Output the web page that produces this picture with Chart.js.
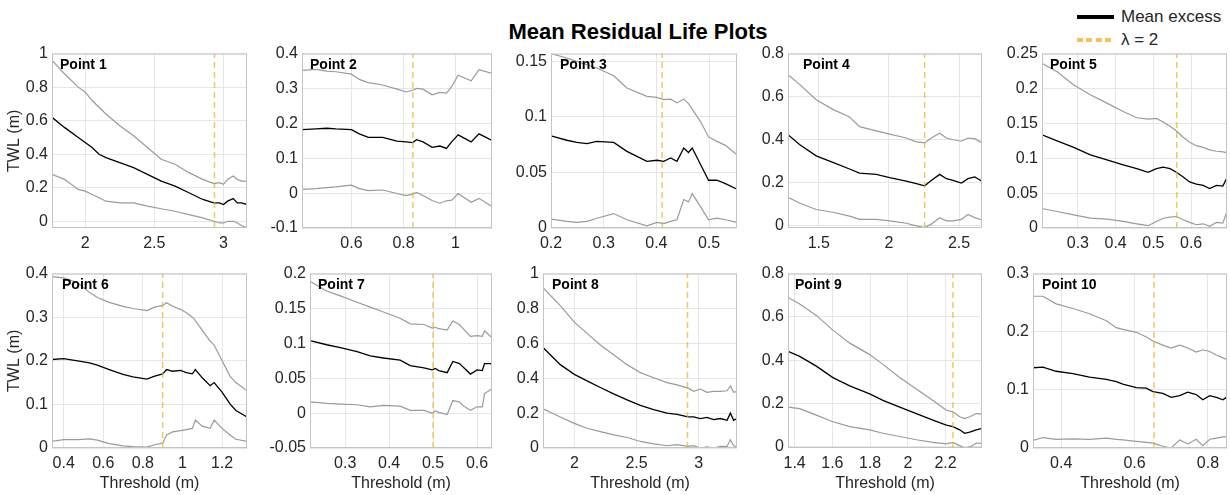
<!DOCTYPE html>
<html>
<head>
<meta charset="utf-8">
<script src="https://cdn.jsdelivr.net/npm/chart.js@4.4.1/dist/chart.umd.min.js"></script>
<style>
  body { margin: 0; background: #fff; width: 1230px; height: 495px; position: relative; overflow: hidden;
         font-family: "Liberation Sans", Arial, sans-serif; color: #000; }
  canvas { position: absolute; }
  .name { position: absolute; font-size: 14px; line-height: 16px; font-weight: bold; color: #000; white-space: nowrap; }
  #title { position: absolute; left: 638px; top: 19px; transform: translateX(-50%); font-size: 22px; line-height: 26px;
           font-weight: bold; white-space: nowrap; }
  .legtxt { position: absolute; left: 1121px; font-size: 17px; line-height: 20px; color: #262626; white-space: nowrap; }
  .legline { position: absolute; left: 1077px; width: 37px; height: 4px; }
</style>
</head>
<body>
<div id="title">Mean Residual Life Plots</div>
<div class="legline" style="top:15px;background:#000;"></div>
<div class="legtxt" style="top:7px;">Mean excess</div>
<div class="legline" style="top:38px;background:repeating-linear-gradient(90deg,rgba(237,177,32,0.75) 0 6px,transparent 6px 9.5px);"></div>
<div class="legtxt" style="top:30px;">λ = 2</div>
<script>
// ---- data ----
const panelNames = ['Point 1', 'Point 2', 'Point 3', 'Point 4', 'Point 5',
                    'Point 6', 'Point 7', 'Point 8', 'Point 9', 'Point 10'];

const x1 = [1.76, 1.85, 1.95, 2.0, 2.05, 2.1, 2.15, 2.25, 2.35, 2.45, 2.55, 2.65, 2.75, 2.85, 2.93, 2.97, 3.0, 3.03, 3.07, 3.1, 3.13, 3.17];
const mean1 = [0.62, 0.56, 0.50, 0.47, 0.44, 0.40, 0.38, 0.35, 0.32, 0.28, 0.24, 0.21, 0.17, 0.13, 0.11, 0.11, 0.10, 0.12, 0.135, 0.11, 0.11, 0.10];
const upper1 = [0.96, 0.88, 0.80, 0.77, 0.72, 0.68, 0.64, 0.57, 0.51, 0.44, 0.37, 0.34, 0.29, 0.25, 0.225, 0.23, 0.22, 0.25, 0.27, 0.25, 0.24, 0.24];
const lower1 = [0.28, 0.25, 0.19, 0.18, 0.16, 0.14, 0.12, 0.11, 0.11, 0.09, 0.075, 0.06, 0.04, 0.02, 0.0, -0.01, -0.01, 0.0, 0.0, -0.01, -0.025, -0.04];

const x2 = [0.41, 0.465, 0.505, 0.54, 0.6, 0.63, 0.665, 0.72, 0.775, 0.81, 0.835, 0.85, 0.875, 0.91, 0.94, 0.965, 0.985, 1.01, 1.06, 1.09, 1.14];
const mean2 = [0.182, 0.184, 0.186, 0.184, 0.182, 0.17, 0.16, 0.16, 0.149, 0.147, 0.145, 0.153, 0.147, 0.131, 0.135, 0.128, 0.147, 0.167, 0.147, 0.17, 0.151];
const upper2 = [0.352, 0.355, 0.35, 0.348, 0.341, 0.326, 0.317, 0.31, 0.298, 0.29, 0.295, 0.30, 0.298, 0.282, 0.289, 0.287, 0.305, 0.338, 0.322, 0.354, 0.343];
const lower2 = [0.011, 0.013, 0.016, 0.018, 0.023, 0.013, 0.007, 0.009, -0.001, -0.007, -0.003, 0.002, -0.007, -0.021, -0.029, -0.022, -0.02, -0.001, -0.026, -0.015, -0.038];

const x3 = [0.2, 0.23, 0.249, 0.268, 0.287, 0.319, 0.344, 0.382, 0.401, 0.414, 0.427, 0.439, 0.452, 0.461, 0.468, 0.484, 0.499, 0.515, 0.531, 0.553];
const mean3 = [0.083, 0.079, 0.077, 0.076, 0.078, 0.077, 0.069, 0.060, 0.061, 0.060, 0.063, 0.060, 0.072, 0.068, 0.072, 0.057, 0.043, 0.043, 0.040, 0.035];
const upper3 = [0.157, 0.153, 0.150, 0.147, 0.144, 0.137, 0.126, 0.1185, 0.1176, 0.1156, 0.116, 0.1126, 0.116, 0.112, 0.107, 0.0956, 0.082, 0.078, 0.0744, 0.066];
const lower3 = [0.008, 0.006, 0.005, 0.006, 0.0088, 0.013, 0.0074, 0.002, 0.005, 0.004, 0.006, 0.0074, 0.0256, 0.0235, 0.031, 0.019, 0.0074, 0.0088, 0.0074, 0.005];

const x4 = [1.28, 1.362, 1.481, 1.6, 1.719, 1.79, 1.91, 2.005, 2.124, 2.195, 2.255, 2.302, 2.362, 2.41, 2.457, 2.517, 2.564, 2.612, 2.664];
const mean4 = [0.423, 0.378, 0.325, 0.295, 0.264, 0.245, 0.239, 0.224, 0.208, 0.196, 0.186, 0.211, 0.239, 0.219, 0.211, 0.199, 0.219, 0.227, 0.207];
const upper4 = [0.702, 0.657, 0.586, 0.541, 0.506, 0.461, 0.441, 0.426, 0.408, 0.39, 0.385, 0.408, 0.43, 0.408, 0.40, 0.393, 0.408, 0.405, 0.385];
const lower4 = [0.133, 0.106, 0.076, 0.063, 0.045, 0.030, 0.030, 0.023, 0.012, 0.0, -0.008, 0.008, 0.038, 0.023, 0.023, 0.03, 0.053, 0.038, 0.027];

const x5 = [0.205, 0.245, 0.289, 0.333, 0.377, 0.420, 0.456, 0.486, 0.508, 0.526, 0.544, 0.561, 0.579, 0.596, 0.614, 0.632, 0.649, 0.667, 0.684, 0.695];
const mean5 = [0.1335, 0.125, 0.1156, 0.1047, 0.0976, 0.0906, 0.085, 0.0797, 0.085, 0.0873, 0.085, 0.080, 0.073, 0.066, 0.063, 0.061, 0.0566, 0.061, 0.060, 0.072];
const upper5 = [0.236, 0.224, 0.205, 0.191, 0.179, 0.167, 0.158, 0.156, 0.157, 0.152, 0.146, 0.139, 0.130, 0.123, 0.118, 0.1156, 0.112, 0.110, 0.109, 0.108];
const lower5 = [0.028, 0.0236, 0.0189, 0.0142, 0.0127, 0.0094, 0.006, 0.0033, 0.0094, 0.014, 0.0156, 0.0165, 0.0118, 0.008, 0.0047, 0.006, 0.0024, 0.008, 0.007, 0.0236];

const x6 = [0.34, 0.40, 0.47, 0.53, 0.57, 0.63, 0.70, 0.75, 0.82, 0.86, 0.90, 0.92, 0.95, 0.99, 1.02, 1.05, 1.065, 1.10, 1.14, 1.16, 1.20, 1.24, 1.27, 1.326];
const mean6 = [0.203, 0.205, 0.200, 0.195, 0.190, 0.180, 0.169, 0.163, 0.158, 0.165, 0.170, 0.180, 0.176, 0.178, 0.173, 0.170, 0.180, 0.161, 0.143, 0.150, 0.128, 0.101, 0.086, 0.071];
const upper6 = [0.393, 0.390, 0.379, 0.357, 0.345, 0.334, 0.325, 0.32, 0.315, 0.323, 0.327, 0.333, 0.325, 0.318, 0.31, 0.30, 0.292, 0.27, 0.245, 0.236, 0.20, 0.165, 0.15, 0.131];
const lower6 = [0.015, 0.019, 0.019, 0.021, 0.018, 0.010, 0.005, 0.003, 0.002, 0.0075, 0.011, 0.030, 0.037, 0.040, 0.042, 0.045, 0.064, 0.050, 0.045, 0.064, 0.045, 0.030, 0.020, 0.015];

const x7 = [0.22, 0.258, 0.289, 0.327, 0.357, 0.387, 0.425, 0.448, 0.479, 0.498, 0.505, 0.513, 0.532, 0.545, 0.56, 0.57, 0.585, 0.60, 0.612, 0.617, 0.634];
const mean7 = [0.104, 0.098, 0.094, 0.088, 0.082, 0.079, 0.076, 0.068, 0.065, 0.062, 0.064, 0.061, 0.058, 0.074, 0.071, 0.065, 0.056, 0.062, 0.061, 0.071, 0.071];
const upper7 = [0.189, 0.175, 0.168, 0.159, 0.152, 0.145, 0.136, 0.128, 0.127, 0.122, 0.123, 0.121, 0.119, 0.132, 0.127, 0.12, 0.11, 0.111, 0.11, 0.118, 0.108];
const lower7 = [0.016, 0.014, 0.013, 0.012, 0.009, 0.011, 0.010, 0.004, 0.004, 0.000, 0.003, 0.001, -0.002, 0.018, 0.016, 0.01, 0.004, 0.009, 0.009, 0.028, 0.035];

const x8 = [1.748, 1.887, 2.0, 2.102, 2.209, 2.316, 2.424, 2.531, 2.638, 2.745, 2.826, 2.914, 2.96, 3.013, 3.067, 3.12, 3.174, 3.228, 3.255, 3.281, 3.308];
const mean8 = [0.576, 0.478, 0.422, 0.385, 0.347, 0.31, 0.276, 0.244, 0.22, 0.2, 0.193, 0.178, 0.178, 0.169, 0.175, 0.163, 0.169, 0.159, 0.2, 0.159, 0.169];
const upper8 = [0.919, 0.816, 0.722, 0.657, 0.591, 0.535, 0.478, 0.432, 0.403, 0.375, 0.362, 0.343, 0.325, 0.338, 0.319, 0.325, 0.325, 0.328, 0.356, 0.319, 0.325];
const lower8 = [0.225, 0.178, 0.141, 0.113, 0.094, 0.075, 0.06, 0.0375, 0.024, 0.013, 0.019, 0.0094, 0.013, 0.0, 0.006, 0.0, 0.009, 0.009, 0.047, 0.013, 0.006];

const x9 = [1.365, 1.427, 1.515, 1.603, 1.692, 1.798, 1.868, 1.957, 2.045, 2.133, 2.204, 2.239, 2.275, 2.301, 2.328, 2.363, 2.393];
const mean9 = [0.441, 0.418, 0.373, 0.32, 0.282, 0.245, 0.215, 0.184, 0.154, 0.124, 0.101, 0.094, 0.079, 0.063, 0.068, 0.079, 0.086];
const upper9 = [0.69, 0.66, 0.607, 0.539, 0.479, 0.426, 0.381, 0.32, 0.267, 0.214, 0.169, 0.162, 0.139, 0.131, 0.139, 0.154, 0.151];
const lower9 = [0.184, 0.177, 0.147, 0.116, 0.094, 0.079, 0.063, 0.048, 0.033, 0.021, 0.014, 0.021, 0.006, -0.005, 0.0, 0.018, 0.015];

const x10 = [0.323, 0.35, 0.386, 0.432, 0.477, 0.523, 0.55, 0.568, 0.605, 0.632, 0.65, 0.677, 0.7, 0.723, 0.745, 0.768, 0.786, 0.805, 0.823, 0.841, 0.852];
const mean10 = [0.138, 0.139, 0.132, 0.128, 0.122, 0.118, 0.114, 0.11, 0.104, 0.103, 0.097, 0.094, 0.087, 0.09, 0.096, 0.092, 0.083, 0.09, 0.087, 0.083, 0.088];
const upper10 = [0.261, 0.261, 0.248, 0.24, 0.231, 0.219, 0.207, 0.204, 0.199, 0.191, 0.184, 0.177, 0.172, 0.177, 0.172, 0.165, 0.169, 0.166, 0.16, 0.155, 0.152];
const lower10 = [0.013, 0.018, 0.015, 0.0158, 0.015, 0.017, 0.015, 0.014, 0.0113, 0.0096, 0.0084, 0.003, 0.0, 0.014, 0.007, 0.015, 0.004, 0.015, 0.017, 0.019, 0.019];

// threshold picked at lambda = 2
const lambdaThreshold = [2.935, 0.836, 0.411, 2.255, 0.562, 0.90, 0.50, 2.91, 2.239, 0.653];

const xLimits = [[1.76, 3.17], [0.41, 1.14], [0.2, 0.553], [1.28, 2.664], [0.205, 0.695],
                 [0.341, 1.326], [0.22, 0.634], [1.748, 3.308], [1.365, 2.393], [0.323, 0.852]];
const yLimits = [[-0.04, 1], [-0.1, 0.4], [0, 0.157], [-0.01, 0.8], [0, 0.25],
                 [0, 0.4], [-0.05, 0.2], [0, 1], [-0.005, 0.8], [0, 0.3]];
const xTicks = [[2, 2.5, 3], [0.6, 0.8, 1], [0.2, 0.3, 0.4, 0.5], [1.5, 2, 2.5], [0.3, 0.4, 0.5, 0.6],
                [0.4, 0.6, 0.8, 1, 1.2], [0.3, 0.4, 0.5, 0.6], [2, 2.5, 3], [1.4, 1.6, 1.8, 2, 2.2], [0.4, 0.6, 0.8]];
const yTicks = [[0, 0.2, 0.4, 0.6, 0.8, 1], [-0.1, 0, 0.1, 0.2, 0.3, 0.4], [0, 0.05, 0.1, 0.15], [0, 0.2, 0.4, 0.6, 0.8],
                [0, 0.05, 0.1, 0.15, 0.2, 0.25], [0, 0.1, 0.2, 0.3, 0.4], [-0.05, 0, 0.05, 0.1, 0.15, 0.2],
                [0, 0.2, 0.4, 0.6, 0.8, 1], [0, 0.2, 0.4, 0.6, 0.8], [0, 0.1, 0.2, 0.3]];

const series = [
  [x1, mean1, upper1, lower1], [x2, mean2, upper2, lower2], [x3, mean3, upper3, lower3],
  [x4, mean4, upper4, lower4], [x5, mean5, upper5, lower5], [x6, mean6, upper6, lower6],
  [x7, mean7, upper7, lower7], [x8, mean8, upper8, lower8], [x9, mean9, upper9, lower9],
  [x10, mean10, upper10, lower10]
];

// ---- layout (plot box edges in page pixels) ----
const plotLeft = [52, 302, 551, 788, 1042, 52, 310, 543, 788, 1033];
const plotRight = [247, 492, 737, 982, 1227, 247, 492, 737, 982, 1227];
const rowTop = [50, 270];
const rowBottom = [228, 448];
const nameDx = [8, 8, 9, 15, 8, 10, 8, 9, 7, 9];

Chart.defaults.font.family = '"Liberation Sans", Arial, sans-serif';
Chart.defaults.color = '#262626';

const boxPlugin = {
  id: 'box',
  afterDraw(chart) {
    const a = chart.chartArea, ctx = chart.ctx;
    ctx.save();
    ctx.strokeStyle = '#c4c4c4';
    ctx.lineWidth = 1;
    ctx.strokeRect(a.left + 0.5, a.top + 0.5, a.right - a.left - 1, a.bottom - a.top - 1);
    ctx.restore();
  }
};

function pts(xs, ys) {
  return xs.map((v, k) => ({ x: v, y: ys[k] }));
}

for (let i = 0; i < 10; i++) {
  const row = i < 5 ? 0 : 1;
  const col = i % 5;
  const yW = col === 0 ? 52 : 48;
  const xH = row === 0 ? 24 : 47;
  const cl = plotLeft[i] - yW;
  const ct = rowTop[row] - 10;
  const cw = plotRight[i] + 3 - cl;
  const ch = rowBottom[row] + xH - ct;

  const cv = document.createElement('canvas');
  cv.width = cw;
  cv.height = ch;
  cv.style.left = cl + 'px';
  cv.style.top = ct + 'px';
  document.body.appendChild(cv);

  const [xs, me, up, lo] = series[i];
  const lam = lambdaThreshold[i];

  new Chart(cv, {
    type: 'line',
    data: {
      datasets: [
        { data: [{ x: lam, y: yLimits[i][0] }, { x: lam, y: yLimits[i][1] }], borderColor: 'rgba(237,177,32,0.72)',
          borderWidth: 1.5, borderDash: [6, 4], pointRadius: 0, order: 1 },
        { data: pts(xs, me), borderColor: '#000', borderWidth: 1.3, pointRadius: 0, order: 2 },
        { data: pts(xs, up), borderColor: '#9a9a9a', borderWidth: 1.2, pointRadius: 0, order: 3 },
        { data: pts(xs, lo), borderColor: '#9a9a9a', borderWidth: 1.2, pointRadius: 0, order: 3 }
      ]
    },
    options: {
      responsive: false,
      animation: false,
      layout: { padding: { top: 10, right: 3, left: 0, bottom: 0 } },
      plugins: { legend: { display: false }, tooltip: { enabled: false } },
      scales: {
        x: {
          type: 'linear',
          min: xLimits[i][0],
          max: xLimits[i][1],
          afterFit: s => { s.height = xH; },
          afterBuildTicks: s => { s.ticks = xTicks[i].map(v => ({ value: v })); },
          grid: { color: '#e6e6e6', drawTicks: false },
          border: { display: false },
          ticks: { padding: 6, autoSkip: false, maxRotation: 0, font: { size: 16 }, callback: v => String(v) },
          title: { display: row === 1, text: 'Threshold (m)', font: { size: 16 }, padding: { top: 0, bottom: 2 } }
        },
        y: {
          type: 'linear',
          min: yLimits[i][0],
          max: yLimits[i][1],
          afterFit: s => { s.width = yW; },
          afterBuildTicks: s => { s.ticks = yTicks[i].map(v => ({ value: v })); },
          grid: { color: '#e6e6e6', drawTicks: false },
          border: { display: false },
          ticks: { padding: 4, autoSkip: false, font: { size: 16 }, callback: v => String(v) },
          title: { display: col === 0, text: 'TWL (m)', font: { size: 16 }, padding: { top: 5, bottom: 0 } }
        }
      }
    },
    plugins: [boxPlugin]
  });

  const nm = document.createElement('div');
  nm.className = 'name';
  nm.textContent = panelNames[i];
  nm.style.left = (plotLeft[i] + nameDx[i]) + 'px';
  nm.style.top = (rowTop[row] + 6) + 'px';
  document.body.appendChild(nm);
}
</script>
</body>
</html>
